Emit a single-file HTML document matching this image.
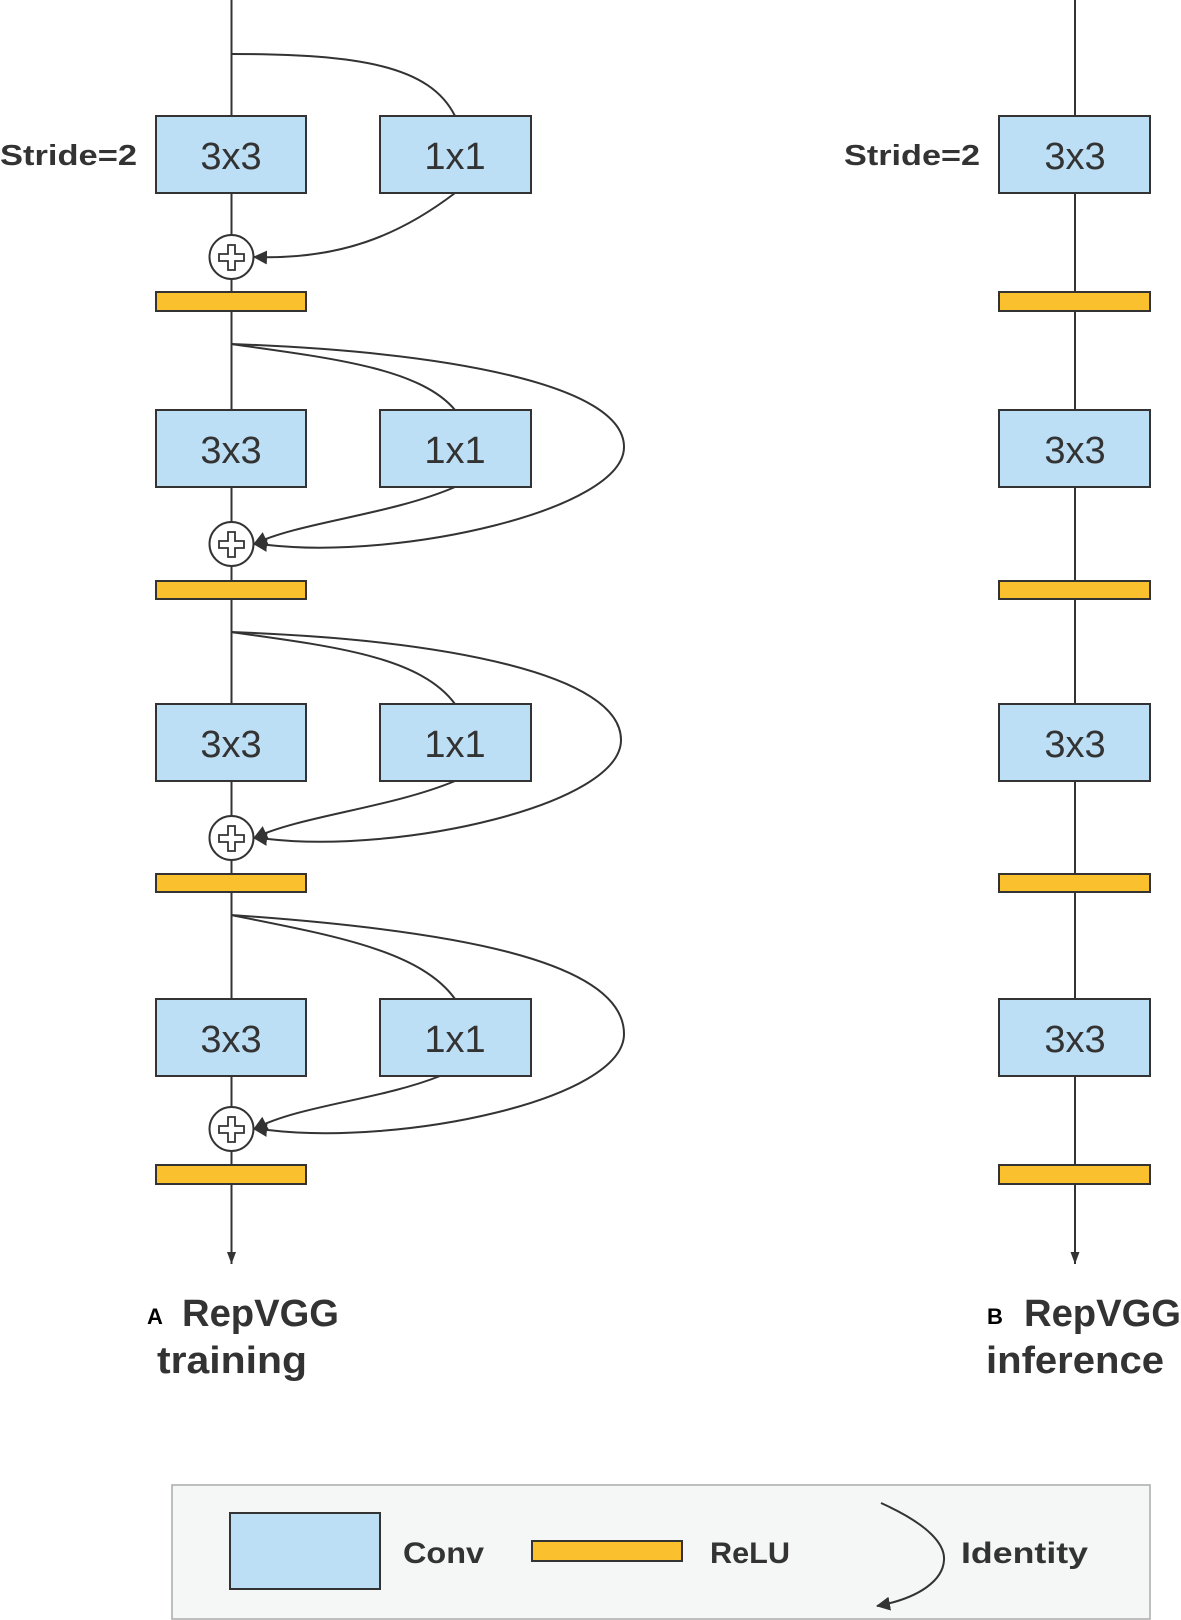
<!DOCTYPE html>
<html><head><meta charset="utf-8"><style>
html,body{margin:0;padding:0;background:#fff;}
svg{display:block;}
.b{font-family:"Liberation Sans","DejaVu Sans",sans-serif;font-weight:bold;fill:#333;}
.r{font-family:"Liberation Sans","DejaVu Sans",sans-serif;fill:#333;font-size:38px;}
</style></head><body>
<svg width="1181" height="1620" viewBox="0 0 1181 1620" xmlns="http://www.w3.org/2000/svg">
<defs>
<marker id="ah" markerWidth="12" markerHeight="16" refX="16" refY="6" orient="auto" markerUnits="userSpaceOnUse" viewBox="0 0 16 12">
<path d="M0,0 L16,6 L0,12 z" fill="#333"/></marker>
<marker id="ah2" markerWidth="14" markerHeight="14" refX="13" refY="7" orient="auto" markerUnits="userSpaceOnUse" viewBox="0 0 14 14">
<path d="M0,0 L14,7 L0,14 z" fill="#333"/></marker>
</defs>
<g stroke="#333" stroke-width="2" fill="none">
<line x1="231.5" y1="0" x2="231.5" y2="1264" marker-end="url(#ah)"/>
<line x1="1075" y1="0" x2="1075" y2="1264" marker-end="url(#ah)"/>
<path d="M231 54 C 360 54, 430 66, 455 116"/>
<path d="M455 193 C 400 235, 340 260, 254 257" marker-end="url(#ah2)"/>
<path d="M231 344 C 330 358, 420 368, 455 410"/>
<path d="M231 344 C 450 352, 624 385, 624 447 C 624 510, 400 560, 268 545 L 254 544" marker-end="url(#ah2)"/>
<path d="M455 487 C 390 515, 300 522, 254 544" marker-end="url(#ah2)"/>
<path d="M231 632 C 330 646, 420 656, 455 704"/>
<path d="M231 632 C 450 640, 621 675, 621 740 C 621 805, 400 854, 268 839 L 254 838" marker-end="url(#ah2)"/>
<path d="M455 781 C 390 808, 300 816, 254 838" marker-end="url(#ah2)"/>
<path d="M231 915 C 330 935, 420 950, 455 999"/>
<path d="M231 915 C 450 930, 624 960, 624 1034 C 624 1100, 400 1146, 268 1130 L 254 1129" marker-end="url(#ah2)"/>
<path d="M440 1076 C 380 1100, 300 1105, 254 1129" marker-end="url(#ah2)"/>
</g>
<g stroke="#333" stroke-width="2" fill="#bddff5">
<rect x="156" y="116" width="150" height="77"/><rect x="380" y="116" width="151" height="77"/>
<rect x="156" y="410" width="150" height="77"/><rect x="380" y="410" width="151" height="77"/>
<rect x="156" y="704" width="150" height="77"/><rect x="380" y="704" width="151" height="77"/>
<rect x="156" y="999" width="150" height="77"/><rect x="380" y="999" width="151" height="77"/>
<rect x="999" y="116" width="151" height="77"/><rect x="999" y="410" width="151" height="77"/>
<rect x="999" y="704" width="151" height="77"/><rect x="999" y="999" width="151" height="77"/>
</g>
<g stroke="#333" stroke-width="2" fill="#fbc02d">
<rect x="156" y="292" width="150" height="19"/><rect x="156" y="581" width="150" height="18"/>
<rect x="156" y="874" width="150" height="18"/><rect x="156" y="1165" width="150" height="19"/>
<rect x="999" y="292" width="151" height="19"/><rect x="999" y="581" width="151" height="18"/>
<rect x="999" y="874" width="151" height="18"/><rect x="999" y="1165" width="151" height="19"/>
</g>
<g stroke="#333" stroke-width="2" fill="#fff">
<circle cx="231.5" cy="257" r="22"/><circle cx="231.5" cy="544" r="22"/>
<circle cx="231.5" cy="838" r="22"/><circle cx="231.5" cy="1129" r="22"/>
</g>
<g fill="#fff" stroke="#333" stroke-width="1.8">
<path d="M228 245h7v9h9v7h-9v9h-7v-9h-9v-7h9z"/>
<path d="M228 532h7v9h9v7h-9v9h-7v-9h-9v-7h9z"/>
<path d="M228 826h7v9h9v7h-9v9h-7v-9h-9v-7h9z"/>
<path d="M228 1117h7v9h9v7h-9v9h-7v-9h-9v-7h9z"/>
</g>
<g class="r" text-anchor="middle">
<text x="231" y="169">3x3</text><text x="455" y="169">1x1</text>
<text x="231" y="463">3x3</text><text x="455" y="463">1x1</text>
<text x="231" y="757">3x3</text><text x="455" y="757">1x1</text>
<text x="231" y="1052">3x3</text><text x="455" y="1052">1x1</text>
<text x="1075" y="169">3x3</text><text x="1075" y="463">3x3</text>
<text x="1075" y="757">3x3</text><text x="1075" y="1052">3x3</text>
</g>
<text class="b" x="0" y="165" font-size="29" textLength="137" lengthAdjust="spacingAndGlyphs">Stride=2</text>
<text class="b" x="844" y="165" font-size="29" textLength="136" lengthAdjust="spacingAndGlyphs">Stride=2</text>
<text class="b" x="147" y="1324" font-size="22" style="fill:#000">A</text>
<text class="b" x="182" y="1326" font-size="38" textLength="157" lengthAdjust="spacingAndGlyphs">RepVGG</text>
<text class="b" x="157" y="1373" font-size="38" textLength="150" lengthAdjust="spacingAndGlyphs">training</text>
<text class="b" x="987" y="1324" font-size="22" style="fill:#000">B</text>
<text class="b" x="1024" y="1326" font-size="38" textLength="157" lengthAdjust="spacingAndGlyphs">RepVGG</text>
<text class="b" x="986" y="1373" font-size="38" textLength="178" lengthAdjust="spacingAndGlyphs">inference</text>
<rect x="172" y="1485" width="978" height="134" fill="#f5f7f6" stroke="#aaa" stroke-width="1.5"/>
<rect x="230" y="1513" width="150" height="76" fill="#bddff5" stroke="#333" stroke-width="2"/>
<rect x="532" y="1541" width="150" height="20" fill="#fbc02d" stroke="#333" stroke-width="2"/>
<path d="M881 1503 C 930 1525, 945 1545, 944 1560 C 943 1580, 920 1598, 877 1606" fill="none" stroke="#333" stroke-width="2" marker-end="url(#ah2)"/>
<text class="b" x="403" y="1563" font-size="30" textLength="81" lengthAdjust="spacingAndGlyphs">Conv</text>
<text class="b" x="710" y="1563" font-size="30" textLength="80" lengthAdjust="spacingAndGlyphs">ReLU</text>
<text class="b" x="961" y="1563" font-size="30" textLength="127" lengthAdjust="spacingAndGlyphs">Identity</text>
</svg>
</body></html>
